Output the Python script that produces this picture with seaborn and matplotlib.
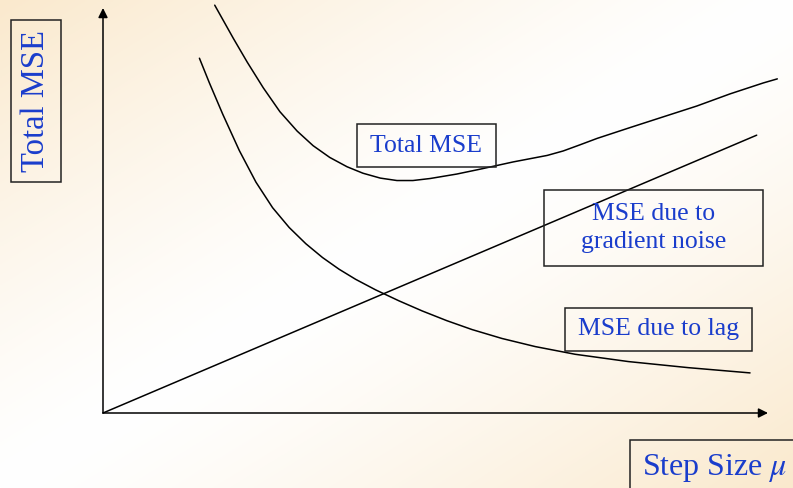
import matplotlib.pyplot as plt
import matplotlib.patches as mpatches
import seaborn as sns
import numpy as np

sns.set_style('white')
plt.rcParams['font.family'] = ['Liberation Serif', 'DejaVu Serif']
plt.rcParams['mathtext.fontset'] = 'stix'

# values (step size on x, MSE on y, arbitrary units)
noise_x = [0.0, 9.83]
noise_y = [0.0, 6.86]

lag_x = [1.45, 1.60, 1.80, 2.05, 2.30, 2.55, 2.80, 3.05, 3.30, 3.55, 3.80,
         4.10, 4.45, 4.80, 5.17, 5.55, 6.00, 6.50, 7.10, 7.90, 8.80, 9.73]
lag_y = [8.76, 8.15, 7.38, 6.48, 5.70, 5.07, 4.58, 4.18, 3.84, 3.55, 3.30,
         3.04, 2.77, 2.52, 2.28, 2.06, 1.84, 1.64, 1.45, 1.27, 1.12, 0.99]

total_x = [1.68, 1.96, 2.17, 2.41, 2.66, 2.92, 3.16, 3.41, 3.67, 3.91,
           4.17, 4.42, 4.66, 4.92, 5.32, 5.67, 6.17, 6.68, 6.92, 7.17,
           7.43, 7.93, 8.42, 8.93, 9.43, 9.93, 10.14]
total_y = [10.07, 9.25, 8.66, 8.03, 7.44, 6.96, 6.60, 6.31, 6.08, 5.92,
           5.80, 5.74, 5.74, 5.79, 5.90, 6.02, 6.20, 6.36, 6.47, 6.62,
           6.78, 7.05, 7.31, 7.58, 7.88, 8.15, 8.25]

W, H = 793, 488
fig = plt.figure(figsize=(W / 100, H / 100), dpi=100)

# background: cream in two corners, white along the other diagonal
bg = fig.add_axes([0, 0, 1, 1], zorder=-10)
gx, gy = np.meshgrid(np.linspace(0, 1, 400), np.linspace(0, 1, 250))
t = np.abs(gx + gy - 1) ** 1.3
cream = np.array([250, 233, 205]) / 255
img = 1 - t[..., None] * (1 - cream)
bg.imshow(img, aspect='auto', extent=[0, 1, 0, 1], origin='upper')
bg.set_axis_off()

# main axes, origin at (103, 413) px
x0, y0, x1, y1 = 103, 413, 768, 8
ax = fig.add_axes([x0 / W, (H - y0) / H, (x1 - x0) / W, (y0 - y1) / H])
ax.patch.set_alpha(0)
ax.set_xlim(0, 10)
ax.set_ylim(0, 10)
ax.set_axis_off()

kw = dict(color='black', linewidth=1.1, sort=False, estimator=None, ax=ax)
sns.lineplot(x=noise_x, y=noise_y, **kw)
sns.lineplot(x=lag_x, y=lag_y, **kw)
sns.lineplot(x=total_x, y=total_y, **kw)
for ln in ax.lines:
    ln.set_clip_on(False)
    ln.set_solid_joinstyle('round')

# axis arrows
arrow = dict(arrowstyle='-|>', color='black', lw=1.1, mutation_scale=14, shrinkA=0, shrinkB=0)
ax.annotate('', xy=(0, 1.0), xytext=(0, 0), xycoords='axes fraction', arrowprops=arrow)
ax.annotate('', xy=(1.0, 0), xytext=(0, 0), xycoords='axes fraction', arrowprops=arrow)

blue = '#1a3dcc'


def label_box(left, top, right, bottom, text, size, rot=0):
    rect = mpatches.Rectangle((left / W, 1 - bottom / H), (right - left) / W, (bottom - top) / H,
                              transform=fig.transFigure, fill=False,
                              edgecolor='#222222', linewidth=1.1, zorder=5)
    fig.patches.append(rect)
    fig.text((left + right) / 2 / W, 1 - (top + bottom) / 2 / H, text, color=blue,
             fontsize=size, rotation=rot, ha='center', va='center',
             linespacing=1.4, zorder=6)


label_box(11, 20, 61, 182, 'Total MSE', 23.5, rot=90)
label_box(630, 440, 800, 495, r'Step Size $\mu$', 23)
label_box(357, 124, 496, 167, 'Total MSE', 18.5)
label_box(544, 190, 763, 266, 'MSE due to\ngradient noise', 18.5)
label_box(565, 308, 752, 351, 'MSE due to lag', 18.5)

fig.savefig('out.png', dpi=100)
